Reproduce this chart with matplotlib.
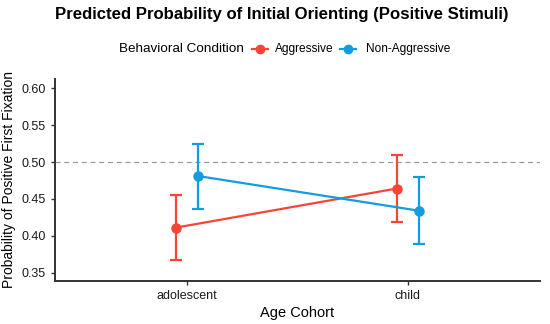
import matplotlib.pyplot as plt
from matplotlib.lines import Line2D
import numpy as np

plt.rcParams['font.family'] = ['Liberation Sans', 'DejaVu Sans']

cohorts = ["adolescent", "child"]
conditions = ["Aggressive", "Non-Aggressive"]
colors = ["#FA4437", "#149CE0"]
prob = {"Aggressive": [0.411, 0.464], "Non-Aggressive": [0.481, 0.434]}
low = {"Aggressive": [0.367, 0.419], "Non-Aggressive": [0.436, 0.389]}
high = {"Aggressive": [0.455, 0.509], "Non-Aggressive": [0.524, 0.479]}

fig = plt.figure(figsize=(5.5, 3.24), dpi=100)
ax = fig.add_axes([54.5/550, 1-280.7/324, (540-54.5)/550, (280.7-79)/324])

x = np.arange(len(cohorts))
dodge = [-0.05, 0.05]
for cond, col, d in zip(conditions, colors, dodge):
    xs = x + d
    y = np.array(prob[cond])
    err = [y - np.array(low[cond]), np.array(high[cond]) - y]
    ax.errorbar(xs, y, yerr=err, color=col, lw=1.6, capsize=4, capthick=1.6,
                marker='o', ms=6.5, zorder=3)

ax.axhline(0.5, color='#9a9a9a', ls=(0, (4, 3)), lw=0.9, zorder=1)

ax.set_xlim(-0.6, 1.6)
ax.set_ylim(0.339, 0.6126)
ax.set_xticks(x)
ax.set_xticklabels(cohorts, fontsize=9)
ax.set_yticks([0.35, 0.40, 0.45, 0.50, 0.55, 0.60])
ax.set_yticklabels(["0.35", "0.40", "0.45", "0.50", "0.55", "0.60"], fontsize=9)
ax.tick_params(colors='#333333', labelcolor='#1a1a1a', length=3, width=1)
for s in ['top', 'right']:
    ax.spines[s].set_visible(False)
for s in ['left', 'bottom']:
    ax.spines[s].set_color('#333333')
    ax.spines[s].set_linewidth(1.4)

ax.set_xlabel("Age Cohort", fontsize=10.5, labelpad=3)
ax.set_ylabel("Probability of Positive First Fixation", fontsize=10, labelpad=4)

fig.text(282/550, 1-15/324, "Predicted Probability of Initial Orienting (Positive Stimuli)",
         ha='center', va='center', fontsize=12.1, fontweight='bold')

# legend
fig.text(119/550, 1-49/324, "Behavioral Condition", ha='left', va='center', fontsize=9.7)
for cond, col, mx, tx in zip(conditions, colors, [260, 348], [275, 366]):
    fig.add_artist(Line2D([(mx-8)/550, (mx+8)/550], [1-49/324]*2, color=col, lw=1.6,
                          transform=fig.transFigure))
    fig.add_artist(Line2D([mx/550], [1-49/324], color=col, marker='o', ms=6,
                          transform=fig.transFigure))
    fig.text(tx/550, 1-49/324, cond, ha='left', va='center', fontsize=8.6)

fig.savefig("out.png", dpi=100)
